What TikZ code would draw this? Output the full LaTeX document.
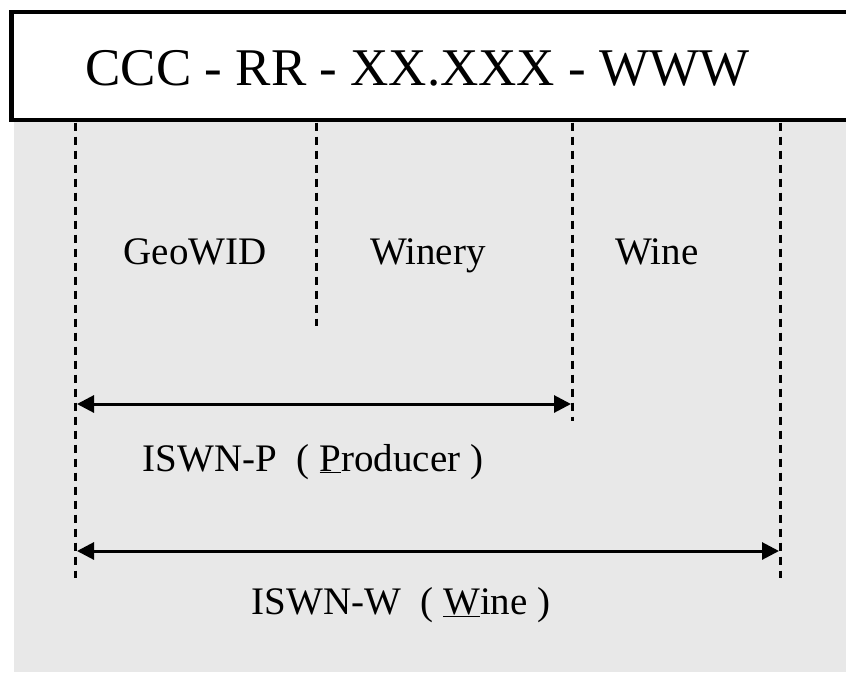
\documentclass[tikz,border=0pt]{standalone}
\usepackage{fontspec}
\IfFontExistsTF{LiberationSerif-Regular.ttf}
  {\setmainfont{LiberationSerif-Regular.ttf}}
  {\IfFontExistsTF{Liberation Serif}{\setmainfont{Liberation Serif}}{}}
\usetikzlibrary{arrows.meta}
\definecolor{bggray}{RGB}{232,232,232}
\begin{document}
\begin{tikzpicture}[x=1pt,y=1pt,
  guide/.style={line width=3pt,dash pattern=on 8pt off 6pt},
  span/.style={line width=3pt,{Triangle[length=17pt,width=17pt]}-{Triangle[length=17pt,width=17pt]}},
  lbl/.style={anchor=base,inner sep=0pt,font=\rmfamily\fontsize{39}{44}\selectfont},
  ttl/.style={anchor=base,inner sep=0pt,font=\rmfamily\fontsize{53}{60}\selectfont}]
\useasboundingbox (0,0) rectangle (846,-672);
\fill[bggray] (14,-120) rectangle (846,-672);
\draw[line width=4.5pt,fill=white] (11.5,-12) rectangle (860,-120);
\node[ttl] (title) at (417.5,-85) {CCC - RR - XX.XXX - WWW};
% guide coordinates
\coordinate (g1t) at (75,-122.5);  \coordinate (g1b) at (75,-578);
\coordinate (g2t) at (316,-122.5); \coordinate (g2b) at (316,-326);
\coordinate (g3t) at (572,-122.5); \coordinate (g3b) at (572,-421);
\coordinate (g4t) at (780,-122.5); \coordinate (g4b) at (780,-578);
\draw[guide] (g1t) -- (g1b);
\draw[guide] (g2t) -- (g2b);
\draw[guide] (g3t) -- (g3b);
\draw[guide] (g4t) -- (g4b);
\node[lbl] (geo) at (195,-264) {GeoWID};
\node[lbl] (winery) at (428,-264) {Winery};
\node[lbl] (wine) at (657,-264) {Wine};
\coordinate (p1) at (77,-404); \coordinate (p2) at (571,-404);
\coordinate (w1) at (77,-551); \coordinate (w2) at (779,-551);
\draw[span] (p1) -- (p2);
\draw[span] (w1) -- (w2);
\node[lbl] (iswnp) at (313,-471) {ISWN-P\hspace{0.5em}( \underline{P}roducer )};
\node[lbl] (iswnw) at (401,-614) {ISWN-W\hspace{0.5em}( \underline{W}ine )};
\end{tikzpicture}
\end{document}
